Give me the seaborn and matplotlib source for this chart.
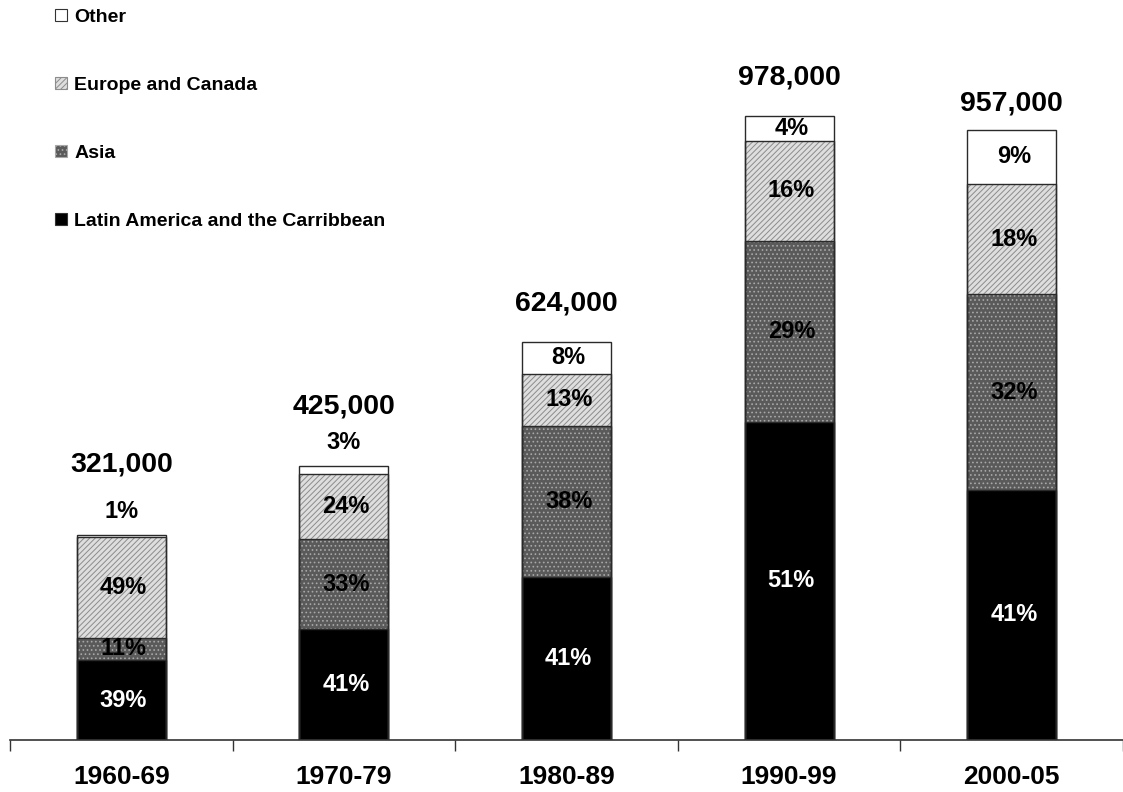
import pandas as pd
import matplotlib
matplotlib.use("Agg")
import matplotlib.pyplot as plt
from matplotlib.patches import Patch
import seaborn as sns

# data
periods = ["1960-69", "1970-79", "1980-89", "1990-99", "2000-05"]
totals = [321000, 425000, 624000, 978000, 957000]
latin = [39, 41, 41, 51, 41]
asia = [11, 33, 38, 29, 32]
europe = [49, 24, 13, 16, 18]
other = [1, 3, 8, 4, 9]
regions = ["Latin America and the Carribbean", "Asia", "Europe and Canada", "Other"]

df = pd.DataFrame({"period": periods, "total": totals})
shares = {"Latin America and the Carribbean": latin, "Asia": asia,
          "Europe and Canada": europe, "Other": other}
cum = pd.Series(0.0, index=df.index)
for r in regions:
    df[r] = df["total"] / 1000 * pd.Series(shares[r]) / 100
    df[r + "_bottom"] = cum
    cum = cum + df[r]
    df[r + "_cum"] = cum

# styles: (face, hatch, hatch colour)
styles = {
    "Latin America and the Carribbean": ("#000000", None, "#000000"),
    "Asia": ("#5a5a5a", "....", "#a8a8a8"),
    "Europe and Canada": ("#dedede", "//////", "#8c8c8c"),
    "Other": ("#ffffff", None, "#ffffff"),
}

sns.set_style("white")
plt.rcParams["font.family"] = ["Liberation Sans", "DejaVu Sans"]
plt.rcParams["font.weight"] = "bold"
plt.rcParams["text.color"] = "black"
plt.rcParams["xtick.color"] = "black"
plt.rcParams["xtick.labelcolor"] = "black"
plt.rcParams["hatch.linewidth"] = 0.7

fig = plt.figure(figsize=(11.23, 7.92), dpi=100)
ax = fig.add_axes([10 / 1123, 52 / 792, 1 - 10 / 1123, 740 / 792])

# cumulative bars, top layer first so lower layers cover them
for r in reversed(regions):
    face, hatch, hc = styles[r]
    sns.barplot(data=df, x="period", y=r + "_cum", order=periods, color=face,
                saturation=1, errorbar=None, width=0.4, hatch=hatch,
                edgecolor=hc, linewidth=0, ax=ax)
# outlines
for r in regions:
    sns.barplot(data=df, x="period", y=r + "_cum", order=periods, color="#2a2a2a",
                saturation=1, errorbar=None, width=0.4, fill=False,
                linewidth=1.0, ax=ax)

# percentage labels
for i in range(len(periods)):
    for r in regions:
        pct = shares[r][i]
        mid = df.loc[i, r + "_bottom"] + df.loc[i, r] / 2
        col = "white" if r == regions[0] else "black"
        if pct <= 3:
            ax.annotate(f"{pct}%", xy=(i, df.loc[i, "Other_cum"]), xytext=(0, 17),
                        textcoords="offset points", ha="center", va="center",
                        fontsize=17, fontweight="bold", color=col)
        else:
            ax.text(i + 0.01, mid, f"{pct}%", ha="center", va="center",
                    fontsize=17, fontweight="bold", color=col)

# totals above the bars
total_offsets = [51, 43, 28, 28, 19]
for i, t in enumerate(totals):
    ax.annotate(f"{t:,}", xy=(i, df.loc[i, "Other_cum"]), xytext=(0, total_offsets[i]),
                textcoords="offset points", ha="center", va="center",
                fontsize=20.5, fontweight="bold", color="black")

ax.set_xlim(-0.5, 4.5)
ax.set_ylim(0, 1160)
ax.set_ylabel("")
ax.set_xlabel("")
ax.set_yticks([])
ax.set_xticks([i - 0.5 for i in range(6)], labels=[""] * 6)
ax.set_xticks(range(5), labels=periods, minor=True)
ax.tick_params(axis="x", which="major", bottom=True, direction="out", length=8,
               width=1, color="#333333")
ax.tick_params(axis="x", which="minor", bottom=True, length=0, pad=18)
for lab in ax.get_xticklabels(minor=True):
    lab.set_fontsize(19)
    lab.set_fontweight("bold")
    lab.set_color("black")
for s in ["top", "left", "right"]:
    ax.spines[s].set_visible(False)
ax.spines["bottom"].set_color("#333333")
ax.spines["bottom"].set_linewidth(1.2)

handles = []
for r in reversed(regions):
    face, hatch, hc = styles[r]
    edge = "#333333" if hatch is None else hc
    handles.append(Patch(facecolor=face, hatch=hatch, edgecolor=edge, linewidth=0.8))
leg = fig.legend(handles, list(reversed(regions)), loc="upper left",
                 bbox_to_anchor=(55 / 1123, 1 - 9 / 792), frameon=False,
                 prop={"weight": "bold", "size": 14}, labelspacing=2.62,
                 handlelength=0.6, handleheight=0.6, handletextpad=0.4,
                 borderpad=0, borderaxespad=0)
for txt in leg.get_texts():
    txt.set_color("black")

fig.savefig("out.png", dpi=100)
